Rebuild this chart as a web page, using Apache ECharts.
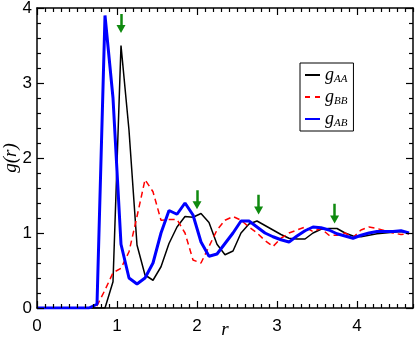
<!DOCTYPE html>
<html>
<head>
<meta charset="utf-8">
<script src="https://cdn.jsdelivr.net/npm/echarts@6/dist/echarts.min.js"></script>
<style>
  html, body { margin: 0; padding: 0; background: #fff; }
  #chart { width: 415px; height: 339px; }
</style>
</head>
<body>
<div id="chart"></div>
<script>
// r values (bin centres) shared by all three curves
const rValues = [0, 0.65, 0.75, 0.85, 0.95, 1.05, 1.15, 1.25, 1.35, 1.45, 1.55, 1.65, 1.75, 1.85, 1.95,
    2.05, 2.15, 2.25, 2.35, 2.45, 2.55, 2.65, 2.75, 2.85, 2.95, 3.05, 3.15, 3.25, 3.35, 3.45,
    3.55, 3.65, 3.75, 3.85, 3.95, 4.05, 4.15, 4.25, 4.35, 4.45, 4.55, 4.65];
const gAA = [0, 0, 0, 0, 0.35, 3.5, 2.37, 0.84, 0.44, 0.37, 0.55, 0.86, 1.08, 1.22, 1.21,
    1.26, 1.14, 0.85, 0.71, 0.76, 1.0, 1.12, 1.16, 1.1, 1.04, 0.98, 0.93, 0.92, 0.92, 1.0,
    1.05, 1.06, 1.06, 1.0, 0.96, 0.95, 0.97, 0.99, 1.0, 1.01, 1.02, 1.0];
const gBB = [0, 0, 0.03, 0.24, 0.47, 0.53, 0.75, 1.22, 1.71, 1.55, 1.17, 1.18, 1.18, 1.0, 0.64,
    0.6, 0.82, 1.04, 1.17, 1.22, 1.17, 1.08, 1.0, 0.9, 0.82, 0.93, 1.0, 1.04, 1.08, 1.02,
    1.06, 0.97, 0.97, 1.0, 0.94, 1.04, 1.08, 1.06, 1.03, 1.0, 0.98, 0.99];
const gAB = [0, 0, 0.05, 3.9, 2.8, 0.85, 0.4, 0.32, 0.4, 0.6, 1.0, 1.3, 1.25, 1.4, 1.24,
    0.88, 0.69, 0.72, 0.86, 1.0, 1.16, 1.16, 1.08, 1.0, 0.95, 0.91, 0.88, 0.96, 1.03, 1.08,
    1.07, 1.04, 0.99, 0.96, 0.93, 0.97, 1.0, 1.02, 1.02, 1.02, 1.03, 1.0];

// green arrows marking peaks
const arrowR = [1.05, 2.0, 2.77, 3.72];
const arrowTop = [3.92, 1.57, 1.51, 1.39];
const arrowEnd = [3.72, 1.37, 1.3, 1.18];

const xTicks = { min: 0, max: 4.7, interval: 1, minorSplit: 10 };
const yTicks = { min: 0, max: 4, interval: 1, minorSplit: 5 };

const W = 415, H = 339;
const grid = { left: 37, right: 2, top: 8, bottom: 31 };
const pxPerX = (W - grid.left - grid.right) / (xTicks.max - xTicks.min);
const pxPerY = (H - grid.top - grid.bottom) / (yTicks.max - yTicks.min);

function pairs(vals) {
    return rValues.map((r, i) => [r, vals[i]]);
}

// tick values along an axis: [value, major?]
function tickList(t) {
    const step = t.interval / t.minorSplit;
    const out = [];
    for (let k = 0; t.min + k * step <= t.max + 1e-9; k++) {
        const v = Math.round((t.min + k * step) * 1000) / 1000;
        const q = v / t.interval;
        out.push([v, Math.abs(q - Math.round(q)) < 1e-6]);
    }
    return out;
}

// inward frame ticks on all four sides, as markLine segments in data coordinates
function frameTickLines() {
    const lines = [];
    tickList(xTicks).forEach(([v, major]) => {
        const d = (major ? 7 : 4) / pxPerY;
        lines.push([{ coord: [v, yTicks.min] }, { coord: [v, yTicks.min + d] }]);
        lines.push([{ coord: [v, yTicks.max] }, { coord: [v, yTicks.max - d] }]);
    });
    tickList(yTicks).forEach(([v, major]) => {
        const d = (major ? 7 : 4) / pxPerX;
        lines.push([{ coord: [xTicks.min, v] }, { coord: [xTicks.min + d, v] }]);
        lines.push([{ coord: [xTicks.max, v] }, { coord: [xTicks.max - d, v] }]);
    });
    return lines;
}

const chart = echarts.init(document.getElementById('chart'));

function frameAxis(ticks, pos, extra) {
    return Object.assign({
        type: 'value', position: pos,
        min: ticks.min, max: ticks.max, interval: ticks.interval,
        axisLine: { show: true, onZero: false, lineStyle: { color: '#000', width: 1.5 } },
        axisTick: { show: false },
        splitLine: { show: false },
        axisLabel: { show: false }
    }, extra || {});
}

const labelFont = { color: '#000', fontSize: 17, fontFamily: 'Liberation Sans' };
const nameFont = { fontFamily: 'Liberation Serif', fontStyle: 'italic', fontSize: 19, color: '#000' };

const option = {
    animation: false,
    grid: Object.assign({ containLabel: false, outerBoundsMode: 'none' }, grid),
    xAxis: [
        frameAxis(xTicks, 'bottom', {
            axisLabel: Object.assign({ show: true, showMaxLabel: false, margin: 10 }, labelFont),
            name: 'r', nameLocation: 'middle', nameGap: 12, nameMoveOverlap: false, nameTextStyle: nameFont
        }),
        frameAxis(xTicks, 'top')
    ],
    yAxis: [
        frameAxis(yTicks, 'left', {
            axisLabel: Object.assign({ show: true, margin: 5 }, labelFont),
            name: 'g(r)', nameLocation: 'middle', nameGap: 17, nameMoveOverlap: false, nameTextStyle: nameFont
        }),
        frameAxis(yTicks, 'right')
    ],
    legend: {
        left: 300, top: 63, orient: 'vertical',
        borderColor: '#000', borderWidth: 1, borderRadius: 0,
        padding: [2, 6, 2, 4], itemGap: 2, itemWidth: 15, itemHeight: 10,
        data: [
            { name: 'gAA' },
            { name: 'gBB', lineStyle: { type: [5, 5] } },
            { name: 'gAB' }
        ],
        itemStyle: { color: 'rgba(0,0,0,0)', borderWidth: 0, opacity: 0 },
        formatter: function (name) {
            return '{g|g}{s|' + name.slice(1) + '}';
        },
        textStyle: {
            rich: {
                g: { fontFamily: 'Liberation Serif', fontStyle: 'italic', fontSize: 18, color: '#000', lineHeight: 20 },
                s: { fontFamily: 'Liberation Serif', fontStyle: 'italic', fontSize: 11, color: '#000',
                     padding: [9, 0, 0, 0], lineHeight: 20 }
            }
        }
    },
    series: [
        {
            name: 'gAA', type: 'line', data: pairs(gAA), showSymbol: false, symbol: 'none',
            lineStyle: { color: '#000', width: 1.5 }, itemStyle: { color: '#000' },
            markLine: {
                silent: true, animation: false,
                symbol: ['none', 'none'],
                label: { show: false },
                lineStyle: { color: '#000', width: 1.2, type: 'solid' },
                emphasis: { disabled: true },
                data: frameTickLines()
            }
        },
        {
            name: 'gBB', type: 'line', data: pairs(gBB), showSymbol: false, symbol: 'none',
            lineStyle: { color: '#ff0000', width: 1.5, type: [6, 4] }, itemStyle: { color: '#ff0000' }
        },
        {
            name: 'gAB', type: 'line', data: pairs(gAB), showSymbol: false, symbol: 'none',
            lineStyle: { color: '#0000ff', width: 3 }, itemStyle: { color: '#0000ff' },
            markLine: {
                silent: true, animation: false,
                symbol: ['none', 'triangle'], symbolSize: [9, 8],
                label: { show: false },
                lineStyle: { color: '#0f8a0f', width: 2.5, type: 'solid' },
                data: arrowR.map((r, i) => [{ coord: [r, arrowTop[i]] }, { coord: [r, arrowEnd[i]] }])
            }
        }
    ]
};
chart.setOption(option);
</script>
</body>
</html>
